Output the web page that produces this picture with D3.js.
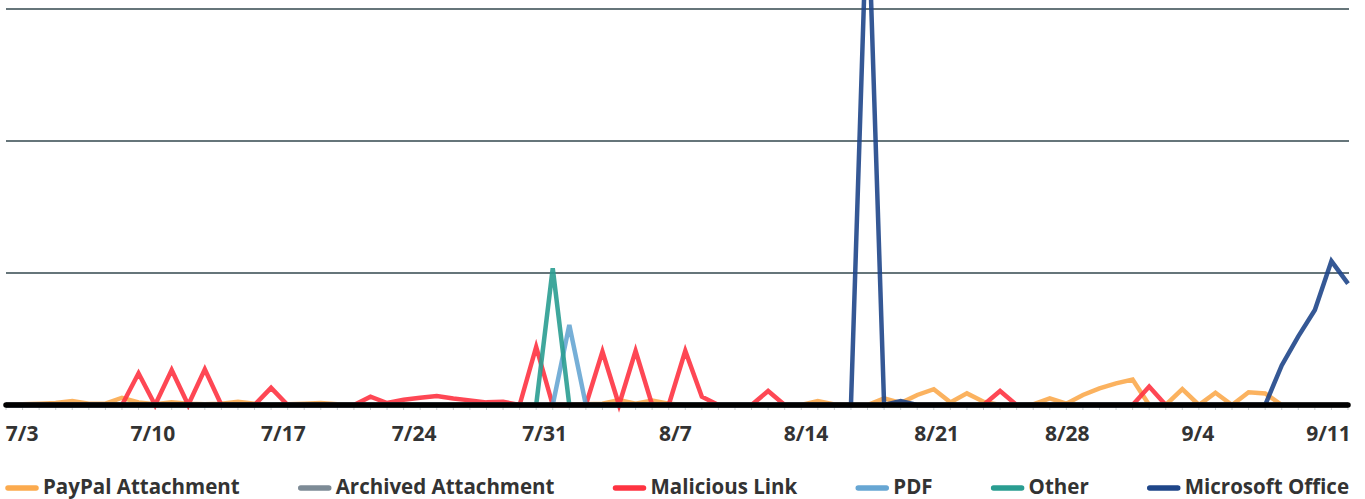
<!DOCTYPE html>
<html>
<head>
<meta charset="utf-8">
<script src="https://cdn.jsdelivr.net/npm/d3@7"></script>
<style>
  html, body { margin: 0; padding: 0; background: #ffffff; }
  svg { display: block; }
  text { font-family: "Open Sans", "Noto Sans", sans-serif; font-weight: 700; fill: #333333; }
</style>
</head>
<body>
<svg id="chart" width="1365" height="499"></svg>
<script>
// ---------------- DATA ----------------
const tickLabels = ["7/3","7/10","7/17","7/24","7/31","8/7","8/14","8/21","8/28","9/4","9/11"];
const seriesNames = ["PayPal Attachment","Archived Attachment","Malicious Link","PDF","Other","Microsoft Office"];
const seriesColors = ["#fbaa4e","#7d8b96","#fe3341","#67a6d3","#2a9d91","#1f4689"];

// 82 observations each (index 0 .. 81), written in rows of 10
const paypal = [
  0,0.5,1,1.5,3,1,1,5.5,2,0.5,
  2,1,0.5,1,2.5,1,0,0.5,1,1.5,
  0.5,0,0,0,0,0,0,0,0,0,
  0,0,0,0,0,0.5,1,3.8,1,3.4,
  1,0,0,0,0,0,0,0,0,3,
  0.5,0,0,5,1.5,7.6,12,2,8.8,2.5,
  0,0,0.5,5,1,7.6,12.6,16.4,19.3,0,
  0,12,0,9.3,0,9.6,8.8,0,0,0,
  0,0];
const archived = [
  0,0,0,0,0,0,0,0,0,0,
  0,0,0,0,0,0,0,0,0,0,
  0,0,0,0,0,0,0,0,0,0,
  0,0,0,0,0,0,0,0,0,0,
  0,0,0,0,0,0,0,0,0,0,
  0,0,0,0,0,0,0,0,0,0,
  0,0,0,0,0,0,0,0,0,0,
  0,0,0,0,0,0,0,0,0,0,
  0,0];
const malicious = [
  0,0,0,0,0,0,0,0,24,0,
  26.5,0,27,0,0,0,13,0,0,0,
  0,0,6.3,1.5,4,5.5,6.8,5,3.5,2,
  2.5,0,44,0,0,0,40.5,0,41,0,
  0,41,6.3,0,0,0,10.6,0,0,0,
  0,0,0,0,0,0,0,0,0,0,
  10.6,0,0,0,0,0,0,0,0,14,
  0,0,0,0,0,0,0,0,0,0,
  0,0];
const pdf = [
  0,0,0,0,0,0,0,0,0,0,
  0,0,0,0,0,0,0,0,0,0,
  0,0,0,0,0,0,0,0,0,0,
  0,0,0,0,60.6,0,0,0,0,0,
  0,0,0,0,0,0,0,0,0,0,
  0,0,0,0,0,0,0,0,0,0,
  0,0,0,0,0,0,0,0,0,0,
  0,0,0,0,0,0,0,0,0,0,
  0,0];
const other = [
  0,0,0,0,0,0,0,0,0,0,
  0,0,0,0,0,0,0,0,0,0,
  0,0,0,0,0,0,0,0,0,0,
  0,0,0,103.5,0,0,0,0,0,0,
  0,0,0,0,0,0,0,0,0,0,
  0,0,0,0,0,0,0,0,0,0,
  0,0,0,0,0,0,0,0,0,0,
  0,0,0,0,0,0,0,0,0,0,
  0,0];
const office = [
  0,0,0,0,0,0,0,0,0,0,
  0,0,0,0,0,0,0,0,0,0,
  0,0,0,0,0,0,0,0,0,0,
  0,0,0,0,0,0,0,0,0,0,
  0,0,0,0,0,0,0,0,0,0,
  0,0,390,0,3,0,0,0,0,0,
  0,0,0,0,0,0,0,0,0,0,
  0,0,0,0,0,0,0,30,52,72,
  109,92];
const gridValues = [100, 200, 300];

// ---------------- CHART ----------------
const svg = d3.select("#chart");
const seriesData = [paypal, archived, malicious, pdf, other, office];
const n = paypal.length;

const x = d3.scaleLinear().domain([0, n - 1]).range([6, 1348]);
const y = d3.scaleLinear().domain([0, 300]).range([405, 9]);
const xLabel = d3.scalePoint().domain(tickLabels).range([22.2, 1328.5]);

// gridlines
svg.append("g")
  .selectAll("line")
  .data(gridValues)
  .join("line")
  .attr("x1", 6).attr("x2", 1349)
  .attr("y1", d => y(d)).attr("y2", d => y(d))
  .attr("stroke", "#66757a")
  .attr("stroke-width", 1.8);

// small ticks at each observation
svg.append("g")
  .selectAll("line")
  .data(d3.range(n))
  .join("line")
  .attr("x1", d => x(d)).attr("x2", d => x(d))
  .attr("y1", 405).attr("y2", 410)
  .attr("stroke", "#c9cfd1")
  .attr("stroke-width", 1);

// series lines
const line = d3.line().x((d, i) => x(i)).y(d => y(d));
svg.append("g")
  .selectAll("path")
  .data(seriesData)
  .join("path")
  .attr("d", d => line(d))
  .attr("fill", "none")
  .attr("stroke", (d, i) => seriesColors[i])
  .attr("stroke-width", 4.5)
  .attr("stroke-linejoin", "miter")
  .attr("stroke-opacity", 0.9);

// baseline (axis domain)
svg.append("line")
  .attr("x1", x(0)).attr("x2", x(n - 1))
  .attr("y1", y(0)).attr("y2", y(0))
  .attr("stroke", "#000000")
  .attr("stroke-width", 5.5)
  .attr("stroke-linecap", "round");

// x labels
svg.append("g")
  .selectAll("text")
  .data(tickLabels)
  .join("text")
  .attr("x", d => xLabel(d))
  .attr("y", 441)
  .attr("text-anchor", "middle")
  .attr("font-size", 21)
  .text(d => d);

// legend (justified across the plot width)
const lg = svg.append("g");
const items = lg.selectAll("g")
  .data(seriesNames)
  .join("g");
items.append("line")
  .attr("x1", 0).attr("x2", 28)
  .attr("y1", 488).attr("y2", 488)
  .attr("stroke", (d, i) => seriesColors[i])
  .attr("stroke-width", 5.5)
  .attr("stroke-linecap", "round");
items.append("text")
  .attr("x", 35).attr("y", 493.5)
  .attr("font-size", 20.5)
  .text(d => d);
const widths = [];
items.each(function() { widths.push(35 + d3.select(this).select("text").node().getComputedTextLength()); });
const left = 8, right = 1349;
const gap = (right - left - d3.sum(widths)) / (widths.length - 1);
let cx = left;
items.attr("transform", (d, i) => { const t = `translate(${cx},0)`; cx += widths[i] + gap; return t; });
</script>
</body>
</html>
